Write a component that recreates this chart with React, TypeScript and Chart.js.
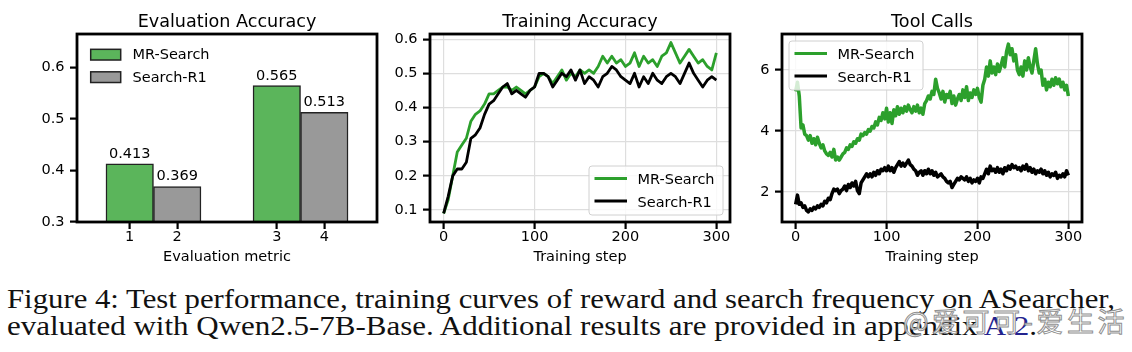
import React, { useEffect, useLayoutEffect, useRef } from "react";
import { Chart, registerables } from "chart.js";

Chart.register(...registerables);

// ---------------- data ----------------
const seriesNames = ["MR-Search", "Search-R1"];

// Evaluation Accuracy (grouped bars)
const metricLabels = ["1", "2", "3", "4"];
const evalMR = [0.413, 0.565];
const evalSR = [0.369, 0.513];
const evalYTicks = [0.3, 0.4, 0.5, 0.6];

// Training Accuracy (one value every 5 steps, 0..300)
const trainStepInterval = 5;
const trainMR = [
  0.09, 0.13, 0.2, 0.27, 0.29, 0.31, 0.36, 0.38, 0.39, 0.41,
  0.44, 0.44, 0.45, 0.46, 0.46, 0.45, 0.46, 0.45, 0.44, 0.45,
  0.46, 0.49, 0.5, 0.49, 0.47, 0.49, 0.51, 0.48, 0.5, 0.49,
  0.51, 0.5, 0.51, 0.5, 0.52, 0.55, 0.53, 0.55, 0.53, 0.54,
  0.52, 0.53, 0.56, 0.52, 0.55, 0.53, 0.54, 0.52, 0.55, 0.56,
  0.59, 0.56, 0.53, 0.55, 0.57, 0.55, 0.53, 0.54, 0.52, 0.51,
  0.56,
];
const trainSR = [
  0.09, 0.14, 0.2, 0.22, 0.22, 0.24, 0.31, 0.32, 0.34, 0.38,
  0.41, 0.42, 0.44, 0.46, 0.47, 0.44, 0.45, 0.44, 0.43, 0.45,
  0.46, 0.5, 0.5, 0.49, 0.46, 0.48, 0.5, 0.49, 0.51, 0.48,
  0.51, 0.47, 0.49, 0.48, 0.46, 0.49, 0.5, 0.52, 0.51, 0.49,
  0.48, 0.47, 0.5, 0.46, 0.49, 0.47, 0.5, 0.48, 0.47, 0.49,
  0.5, 0.49, 0.47, 0.5, 0.53, 0.5, 0.48, 0.46, 0.48, 0.49,
  0.48,
];
const trainYTicks = [0.1, 0.2, 0.3, 0.4, 0.5, 0.6];
const stepTicks = [0, 100, 200, 300];

// Tool Calls (one value every 2 steps, 0..300)
const toolStepInterval = 2;
const toolMR = [
  5.3, 5.6, 5.15, 4.1, 4.2, 3.9, 3.85, 3.7, 3.85, 3.6,
  3.75, 3.55, 3.8, 3.6, 3.45, 3.55, 3.35, 3.25, 3.2, 3.3,
  3.15, 3.4, 3.05, 3.15, 3.05, 3.15, 3.25, 3.3, 3.45, 3.4,
  3.55, 3.5, 3.65, 3.6, 3.75, 3.7, 3.9, 3.85, 3.95, 3.9,
  4.05, 4.0, 4.15, 4.1, 4.3, 4.2, 4.45, 4.35, 4.6, 4.4,
  4.75, 4.3, 4.6, 4.25, 4.7, 4.5, 4.8, 4.55, 4.75, 4.6,
  4.8, 4.65, 4.85, 4.7, 4.6, 4.8, 4.65, 4.85, 4.6, 4.75,
  4.55, 4.9, 5.0, 5.15, 5.05, 5.3, 5.2, 5.7, 5.4, 5.25,
  5.05, 5.3, 4.95, 5.2, 5.1, 5.3, 4.9, 5.15, 4.85, 5.05,
  5.2, 5.0, 5.35, 5.1, 5.45, 5.0, 5.25, 5.1, 5.35, 5.2,
  5.4, 5.1, 4.95, 5.5, 5.7, 6.1, 5.8, 6.3, 5.9, 6.1,
  5.85, 6.2, 5.95, 6.15, 6.4, 6.1, 6.6, 6.85, 6.5, 6.7,
  6.3, 6.5, 6.0, 5.85, 6.1, 5.8, 6.3, 6.0, 6.4, 6.1,
  5.9, 6.3, 6.7, 6.2, 5.9, 6.0, 5.5, 5.7, 5.35, 5.6,
  5.45, 5.7, 5.5, 5.75, 5.55, 5.7, 5.45, 5.6, 5.35, 5.5,
  5.15,
];
const toolSR = [
  1.6, 1.9, 1.6, 1.65, 1.5, 1.55, 1.4, 1.35, 1.45, 1.4,
  1.5, 1.45, 1.55, 1.5, 1.6, 1.55, 1.7, 1.65, 1.8, 1.75,
  1.95, 2.1, 2.05, 2.1, 1.95, 2.05, 2.1, 2.2, 2.05, 2.25,
  2.15, 2.3, 2.2, 2.35, 2.05, 1.95, 2.3, 2.4, 2.5, 2.6,
  2.5, 2.6, 2.5, 2.65, 2.55, 2.7, 2.6, 2.75, 2.7, 2.8,
  2.7, 2.85, 2.7, 2.8, 2.65, 2.8, 2.9, 3.0, 2.85, 2.95,
  2.85, 2.95, 3.05, 2.9, 2.85, 2.75, 2.7, 2.55, 2.65, 2.7,
  2.55, 2.7, 2.6, 2.75, 2.6, 2.7, 2.55, 2.65, 2.5, 2.55,
  2.6, 2.5, 2.45, 2.35, 2.3, 2.35, 2.15, 2.25, 2.35, 2.45,
  2.4, 2.5, 2.45, 2.4, 2.5, 2.35, 2.45, 2.3, 2.4, 2.35,
  2.45, 2.3, 2.5, 2.45, 2.6, 2.75, 2.6, 2.85, 2.7, 2.75,
  2.65, 2.8, 2.65, 2.75, 2.6, 2.8, 2.7, 2.85, 2.75, 2.9,
  2.8, 2.85, 2.75, 2.8, 2.7, 2.85, 2.75, 2.9, 2.7, 2.8,
  2.65, 2.75, 2.6, 2.7, 2.65, 2.75, 2.6, 2.7, 2.55, 2.65,
  2.5, 2.6, 2.55, 2.65, 2.45, 2.55, 2.5, 2.6, 2.5, 2.7,
  2.55,
];
const toolYTicks = [2, 4, 6];

// ---------------- styles ----------------
const FONT = "DejaVu Sans";
const GREEN_LINE = "#2ca02c";
const BLACK_LINE = "#000000";
const BAR_GREEN = "#5bb55b";
const BAR_GRAY = "#999999";
const BAR_EDGE = "#222222";

const spinePlugin = {
  id: "spines",
  afterDatasetsDraw(chart: any) {
    const { ctx, chartArea: a } = chart;
    ctx.save();
    ctx.strokeStyle = "#000";
    ctx.lineWidth = 2.8;
    ctx.strokeRect(a.left, a.top, a.right - a.left, a.bottom - a.top);
    ctx.restore();
  },
};

const miniLegend = {
  id: "miniLegend",
  afterDraw(chart: any, _args: any, o: any) {
    if (!o || !o.items) return;
    const { ctx, chartArea: a } = chart;
    const W = 134, H = 49, m = 7;
    const fx = o.corner === "br" ? a.right - m - W : a.left + m;
    const fy = o.corner === "br" ? a.bottom - m - H : a.top + m;
    ctx.save();
    if (o.frame) {
      const r = 3;
      ctx.beginPath();
      ctx.moveTo(fx + r, fy);
      ctx.lineTo(fx + W - r, fy);
      ctx.arcTo(fx + W, fy, fx + W, fy + r, r);
      ctx.lineTo(fx + W, fy + H - r);
      ctx.arcTo(fx + W, fy + H, fx + W - r, fy + H, r);
      ctx.lineTo(fx + r, fy + H);
      ctx.arcTo(fx, fy + H, fx, fy + H - r, r);
      ctx.lineTo(fx, fy + r);
      ctx.arcTo(fx, fy, fx + r, fy, r);
      ctx.closePath();
      ctx.fillStyle = "rgba(255,255,255,0.8)";
      ctx.fill();
      ctx.strokeStyle = "#d0d0d0";
      ctx.lineWidth = 1;
      ctx.stroke();
    }
    o.items.forEach((it: any, i: number) => {
      const dy = i * 22.5;
      if (o.kind === "patch") {
        ctx.fillStyle = it.color;
        ctx.fillRect(fx + 6.7, fy + 8.3 + dy, 30, 10.7);
        ctx.strokeStyle = BAR_EDGE;
        ctx.lineWidth = 1.5;
        ctx.strokeRect(fx + 6.7, fy + 8.3 + dy, 30, 10.7);
      } else {
        ctx.strokeStyle = it.color;
        ctx.lineWidth = 3;
        ctx.beginPath();
        ctx.moveTo(fx + 5.5, fy + 12.5 + dy);
        ctx.lineTo(fx + 38, fy + 12.5 + dy);
        ctx.stroke();
      }
      ctx.fillStyle = "#000";
      ctx.font = `14.5px "${FONT}"`;
      ctx.textBaseline = "alphabetic";
      ctx.textAlign = "left";
      ctx.fillText(it.label, fx + 48.5, fy + 18.3 + dy);
    });
    ctx.restore();
  },
};

const barValueLabels = {
  id: "barValueLabels",
  afterDatasetsDraw(chart: any) {
    if (chart.config.type !== "bar") return;
    const { ctx } = chart;
    ctx.save();
    ctx.font = `14.5px "${FONT}"`;
    ctx.fillStyle = "#000";
    ctx.textAlign = "center";
    ctx.textBaseline = "alphabetic";
    chart.data.datasets.forEach((ds: any, di: number) => {
      const meta = chart.getDatasetMeta(di);
      meta.data.forEach((el: any, i: number) => {
        ctx.fillText(Number(ds.data[i].y).toFixed(3), el.x, el.y - 6);
      });
    });
    ctx.restore();
  },
};

interface AxisSpec {
  title: string;
  xTitle: string;
  xMin: number;
  xMax: number;
  xTicks: number[];
  xFmt: (v: number, i: number) => string;
  yMin: number;
  yMax: number;
  yTicks: number[];
  yFmt: (v: number) => string;
  yWidth: number;
  padRight: number;
  grid: boolean;
  legend: any;
}

function buildOptions(s: AxisSpec): any {
  const tickFont = { family: FONT, size: 14.5 };
  const gridCommon = {
    display: true,
    drawOnChartArea: s.grid,
    offset: false,
    color: "#dedede",
    lineWidth: 1.2,
    drawTicks: true,
    tickLength: 7,
    tickWidth: 2.2,
    tickColor: "#000",
  };
  return {
    animation: false,
    responsive: false,
    devicePixelRatio: 1,
    layout: { padding: { left: 0, right: s.padRight, top: 0, bottom: 0 } },
    plugins: {
      legend: { display: false },
      tooltip: { enabled: false },
      title: {
        display: true,
        text: s.title,
        fullSize: false,
        color: "#000",
        font: { family: FONT, size: 17.6, weight: "normal" },
        padding: { top: 11.5, bottom: 1.4 },
      },
      miniLegend: s.legend,
    },
    scales: {
      x: {
        type: "linear",
        offset: false,
        min: s.xMin,
        max: s.xMax,
        afterBuildTicks: (sc: any) => {
          sc.ticks = s.xTicks.map((v) => ({ value: v }));
        },
        afterFit: (sc: any) => {
          sc.height = 48;
        },
        ticks: {
          callback: (v: number, i: number) => s.xFmt(v, i),
          font: tickFont,
          color: "#000",
          padding: 0,
          maxRotation: 0,
          autoSkip: false,
        },
        grid: gridCommon,
        border: { display: false },
        title: {
          display: true,
          text: s.xTitle,
          color: "#000",
          font: { family: FONT, size: 14.5 },
          padding: { top: 0, bottom: 4 },
        },
      },
      y: {
        type: "linear",
        min: s.yMin,
        max: s.yMax,
        afterBuildTicks: (sc: any) => {
          sc.ticks = s.yTicks.map((v) => ({ value: v }));
        },
        afterFit: (sc: any) => {
          sc.width = s.yWidth;
        },
        ticks: {
          callback: (v: number) => s.yFmt(v),
          font: tickFont,
          color: "#000",
          padding: 5.5,
          autoSkip: false,
        },
        grid: gridCommon,
        border: { display: false },
      },
    },
  };
}

// ---------------- chart configs ----------------
function evalConfig(): any {
  const groups = [0, 1];
  const barW = 0.323;
  const posMR = groups.map((g) => g - barW / 2);
  const posSR = groups.map((g) => g + barW / 2);
  const tickPos = [posMR[0], posSR[0], posMR[1], posSR[1]];
  return {
    type: "bar",
    data: {
      datasets: [
        {
          label: seriesNames[0],
          data: evalMR.map((y, i) => ({ x: posMR[i], y })),
          backgroundColor: BAR_GREEN,
          borderColor: BAR_EDGE,
          borderWidth: 1.5,
          grouped: false,
          barPercentage: 1,
          categoryPercentage: 1,
        },
        {
          label: seriesNames[1],
          data: evalSR.map((y, i) => ({ x: posSR[i], y })),
          backgroundColor: BAR_GRAY,
          borderColor: BAR_EDGE,
          borderWidth: 1.5,
          grouped: false,
          barPercentage: 1,
          categoryPercentage: 1,
        },
      ],
    },
    options: buildOptions({
      title: "Evaluation Accuracy",
      xTitle: "Evaluation metric",
      xMin: -0.52,
      xMax: 1.52,
      xTicks: tickPos,
      xFmt: (_v, i) => metricLabels[i],
      yMin: 0.3,
      yMax: 0.665,
      yTicks: evalYTicks,
      yFmt: (v) => v.toFixed(1),
      yWidth: 77,
      padRight: 3,
      grid: false,
      legend: {
        corner: "tl",
        frame: false,
        kind: "patch",
        items: [
          { label: seriesNames[0], color: BAR_GREEN },
          { label: seriesNames[1], color: BAR_GRAY },
        ],
      },
    }),
    plugins: [barValueLabels, spinePlugin, miniLegend],
  };
}

function lineDataset(label: string, values: number[], interval: number, color: string, order: number, width: number) {
  return {
    label,
    data: values.map((y, i) => ({ x: i * interval, y })),
    borderColor: color,
    backgroundColor: color,
    borderWidth: width,
    pointRadius: 0,
    tension: 0,
    fill: false,
    borderJoinStyle: "round",
    order,
  };
}

function trainConfig(): any {
  return {
    type: "line",
    data: {
      datasets: [
        lineDataset(seriesNames[0], trainMR, trainStepInterval, GREEN_LINE, 1, 2.8),
        lineDataset(seriesNames[1], trainSR, trainStepInterval, BLACK_LINE, 0, 2.8),
      ],
    },
    options: buildOptions({
      title: "Training Accuracy",
      xTitle: "Training step",
      xMin: -15,
      xMax: 315,
      xTicks: stepTicks,
      xFmt: (v) => String(v),
      yMin: 0.065,
      yMax: 0.615,
      yTicks: trainYTicks,
      yFmt: (v) => v.toFixed(1),
      yWidth: 50,
      padRight: 10,
      grid: true,
      legend: {
        corner: "br",
        frame: true,
        kind: "line",
        items: [
          { label: seriesNames[0], color: GREEN_LINE },
          { label: seriesNames[1], color: BLACK_LINE },
        ],
      },
    }),
    plugins: [spinePlugin, miniLegend],
  };
}

function toolConfig(): any {
  return {
    type: "line",
    data: {
      datasets: [
        lineDataset(seriesNames[0], toolMR, toolStepInterval, GREEN_LINE, 1, 3.5),
        lineDataset(seriesNames[1], toolSR, toolStepInterval, BLACK_LINE, 0, 3.5),
      ],
    },
    options: buildOptions({
      title: "Tool Calls",
      xTitle: "Training step",
      xMin: -15,
      xMax: 315,
      xTicks: stepTicks,
      xFmt: (v) => String(v),
      yMin: 1.02,
      yMax: 7.18,
      yTicks: toolYTicks,
      yFmt: (v) => String(v),
      yWidth: 42,
      padRight: 50,
      grid: true,
      legend: {
        corner: "tl",
        frame: true,
        kind: "line",
        items: [
          { label: seriesNames[0], color: GREEN_LINE },
          { label: seriesNames[1], color: BLACK_LINE },
        ],
      },
    }),
    plugins: [spinePlugin, miniLegend],
  };
}

// ---------------- components ----------------
function ChartBox(props: { left: number; width: number; height: number; make: () => any }) {
  const ref = useRef<HTMLCanvasElement>(null);
  useEffect(() => {
    if (!ref.current) return;
    const chart = new Chart(ref.current, props.make());
    return () => chart.destroy();
  }, []);
  return (
    <canvas
      ref={ref}
      width={props.width}
      height={props.height}
      style={{ position: "absolute", left: props.left, top: 0, width: props.width, height: props.height }}
    />
  );
}

function Caption() {
  const r1 = useRef<HTMLSpanElement>(null);
  const r2 = useRef<HTMLSpanElement>(null);
  useLayoutEffect(() => {
    const fit = () => {
      const pairs: [HTMLSpanElement | null, number][] = [
        [r1.current, 1108],
        [r2.current, 1030],
      ];
      pairs.forEach(([el, w]) => {
        if (!el) return;
        el.style.transform = "none";
        const cw = el.getBoundingClientRect().width;
        if (cw > 0) el.style.transform = `scaleX(${w / cw})`;
      });
    };
    fit();
    const f: any = (document as any).fonts;
    if (f && f.ready) f.ready.then(fit);
  }, []);
  const lineStyle: React.CSSProperties = {
    position: "absolute",
    left: 7,
    display: "inline-block",
    whiteSpace: "nowrap",
    transformOrigin: "0 0",
    fontFamily: '"Liberation Serif", serif',
    fontSize: 27,
    lineHeight: "30px",
    color: "#111",
  };
  return (
    <>
      <span ref={r1} style={{ ...lineStyle, top: 284 }}>
        Figure 4: Test performance, training curves of reward and search frequency on ASearcher,
      </span>
      <span ref={r2} style={{ ...lineStyle, top: 311 }}>
        evaluated with Qwen2.5-7B-Base. Additional results are provided in appendix{" "}
        <span style={{ color: "#23238e" }}>A.2</span>.
      </span>
      <span
        style={{
          position: "absolute",
          left: 903,
          top: 307,
          fontFamily: '"Noto Sans CJK SC", sans-serif',
          fontSize: 27,
          lineHeight: "27px",
          letterSpacing: 3.5,
          whiteSpace: "nowrap",
          color: "rgba(255,255,255,0.85)",
          WebkitTextStroke: "1px rgba(130,130,130,0.9)",
        }}
      >
        @爱可可-爱生活
      </span>
    </>
  );
}

export default function App() {
  return (
    <div
      style={{
        position: "absolute",
        left: 0,
        top: 0,
        width: 1132,
        height: 352,
        background: "#fff",
        overflow: "hidden",
      }}
    >
      <ChartBox left={0} width={380} height={270} make={evalConfig} />
      <ChartBox left={380} width={360} height={270} make={trainConfig} />
      <ChartBox left={740} width={392} height={270} make={toolConfig} />
      <Caption />
    </div>
  );
}
